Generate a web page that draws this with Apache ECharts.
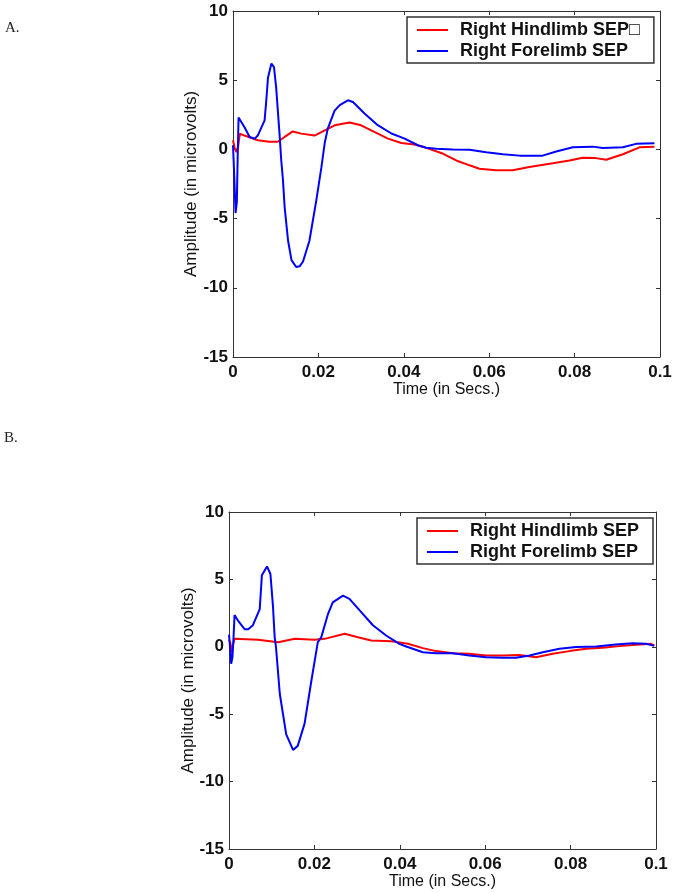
<!DOCTYPE html>
<html>
<head>
<meta charset="utf-8">
<script src="https://cdn.jsdelivr.net/npm/echarts@6/dist/echarts.min.js"></script>
<style>html,body{margin:0;padding:0;background:#fff;}#c{width:678px;height:893px;}</style>
</head>
<body>
<div id="c"></div>
<script>
// Panel A
const aRedT  = [0,0.0004,0.0008,0.0012,0.0016,0.0027,0.0058,0.0085,0.0105,0.0121,0.014,0.016,0.0191,0.0215,0.0238,0.0273,0.03,0.0331,0.0363,0.0394,0.0425,0.0449,0.0491,0.0523,0.0554,0.0577,0.0616,0.0655,0.0694,0.0749,0.0788,0.0819,0.085,0.0874,0.0913,0.0952,0.0987];
const aRedV  = [0.66,0.1,-0.2,0.2,1.14,1.0,0.66,0.55,0.55,0.9,1.3,1.14,1.0,1.38,1.74,1.95,1.74,1.26,0.78,0.46,0.35,0.15,-0.3,-0.8,-1.15,-1.4,-1.5,-1.5,-1.27,-1.0,-0.8,-0.6,-0.63,-0.75,-0.35,0.15,0.2];
const aBlueT = [0,0.0003,0.0006,0.0009,0.0011,0.0013,0.0027,0.0039,0.0051,0.0058,0.0074,0.0078,0.0082,0.009,0.0096,0.0101,0.0109,0.0113,0.0117,0.0121,0.0129,0.0137,0.0148,0.0156,0.0164,0.0179,0.0195,0.0207,0.0215,0.0222,0.0238,0.025,0.0269,0.0281,0.0308,0.0339,0.0371,0.0402,0.0433,0.0452,0.0476,0.0515,0.0554,0.0593,0.0632,0.0671,0.0725,0.0757,0.0796,0.0842,0.0866,0.0913,0.0944,0.0987];
const aBlueV = [0.3,-2.0,-4.6,-3.8,-0.5,2.3,1.6,0.9,0.78,1.0,2.1,3.55,5.2,6.2,5.95,4.5,1.1,-0.8,-2.2,-4.2,-6.6,-8.0,-8.5,-8.45,-8.1,-6.6,-3.7,-1.3,0.5,1.5,2.8,3.2,3.55,3.42,2.6,1.75,1.15,0.78,0.3,0.12,0.05,0.0,-0.02,-0.2,-0.35,-0.45,-0.45,-0.15,0.15,0.2,0.1,0.15,0.4,0.45];
// Panel B
const bRedT  = [0,0.0003,0.0006,0.0009,0.0013,0.0068,0.0115,0.0154,0.02,0.0224,0.0271,0.0302,0.0333,0.038,0.0419,0.0454,0.0485,0.0524,0.0563,0.0602,0.0641,0.068,0.0719,0.0758,0.0797,0.0836,0.0875,0.0914,0.0953,0.0988,0.0996];
const bRedV  = [0.5,0.3,-0.4,0.1,0.59,0.52,0.34,0.59,0.52,0.59,0.97,0.71,0.47,0.42,0.22,-0.1,-0.32,-0.47,-0.52,-0.64,-0.64,-0.6,-0.77,-0.52,-0.32,-0.15,-0.07,0.05,0.15,0.22,0.1];
const bBlueT = [0,0.0003,0.0005,0.0008,0.001,0.0013,0.0021,0.0037,0.0045,0.0056,0.0072,0.0077,0.0089,0.0097,0.0103,0.0107,0.011,0.0119,0.0134,0.015,0.0161,0.0177,0.0193,0.0208,0.0216,0.0232,0.0243,0.0267,0.0282,0.0306,0.0337,0.0368,0.0399,0.0415,0.0454,0.0485,0.0524,0.0563,0.0602,0.0641,0.0672,0.0704,0.0735,0.0774,0.0813,0.086,0.0906,0.0945,0.0977,0.0996];
const bBlueV = [0.9,-0.2,-1.26,-0.8,0.3,2.35,1.95,1.3,1.3,1.6,2.8,5.3,5.96,5.4,3.0,0.7,0,-3.5,-6.5,-7.65,-7.35,-5.7,-2.5,0.35,0.7,2.45,3.3,3.8,3.56,2.7,1.6,0.84,0.22,0.02,-0.4,-0.47,-0.47,-0.64,-0.77,-0.82,-0.82,-0.64,-0.4,-0.15,-0.02,0.02,0.17,0.27,0.22,0.07];

const seriesNamesA = ['Right Hindlimb SEP\u25A1', 'Right Forelimb SEP'];
const seriesNamesB = ['Right Hindlimb SEP', 'Right Forelimb SEP'];
const panelLabels = ['A.', 'B.'];
const xTitle = 'Time (in Secs.)';
const yTitle = 'Amplitude (in microvolts)';

const pairs = (t, v) => t.map((x, i) => [x, v[i]]);
const axisColor = '#333';
const sans = 'Liberation Sans, Arial, sans-serif';
const tickFont = {fontFamily: sans, fontWeight: 'bold', fontSize: 17, color: '#111'};

function xAxes(g, gap) {
  return [
    {type:'value', gridIndex:g, min:0, max:0.1, interval:0.02, position:'bottom',
     name:xTitle, nameLocation:'middle', nameGap:gap, nameMoveOverlap:false,
     nameTextStyle:{fontFamily:sans, fontSize:16, color:'#111'},
     axisLine:{show:true, onZero:false, lineStyle:{color:axisColor, width:1}},
     axisTick:{show:true, inside:true, length:4, lineStyle:{color:axisColor}},
     axisLabel:Object.assign({margin:7}, tickFont),
     splitLine:{show:false}},
    {type:'value', gridIndex:g, min:0, max:0.1, interval:0.02, position:'top',
     axisLine:{show:true, onZero:false, lineStyle:{color:axisColor, width:1}},
     axisTick:{show:true, inside:true, length:4, lineStyle:{color:axisColor}},
     axisLabel:{show:false}, splitLine:{show:false}}
  ];
}
function yAxes(g, gap) {
  return [
    {type:'value', gridIndex:g, min:-15, max:10, interval:5, position:'left',
     name:yTitle, nameLocation:'middle', nameGap:gap, nameMoveOverlap:false,
     nameTextStyle:{fontFamily:sans, fontSize:17, color:'#111'},
     axisLine:{show:true, onZero:false, lineStyle:{color:axisColor, width:1}},
     axisTick:{show:true, inside:true, length:4, lineStyle:{color:axisColor}},
     axisLabel:Object.assign({margin:5}, tickFont),
     splitLine:{show:false}},
    {type:'value', gridIndex:g, min:-15, max:10, interval:5, position:'right',
     axisLine:{show:true, onZero:false, lineStyle:{color:axisColor, width:1}},
     axisTick:{show:true, inside:true, length:4, lineStyle:{color:axisColor}},
     axisLabel:{show:false}, splitLine:{show:false}}
  ];
}
function line(name, data, color, xi, yi) {
  return {type:'line', name:name, data:data, xAxisIndex:xi, yAxisIndex:yi,
    showSymbol:false, symbol:'none', animation:false,
    lineStyle:{color:color, width:2}, itemStyle:{color:color}};
}
function legend(names, left, top, padR) {
  return {data:names, orient:'vertical', left:left, top:top,
    padding:[4,padR,3,10], itemGap:3, itemWidth:31, itemHeight:2, icon:'rect',
    borderColor:'#333', borderWidth:1.5, backgroundColor:'#fff',
    selectedMode:false,
    textStyle:{fontFamily:sans, fontWeight:'bold', fontSize:18, color:'#111', lineHeight:18, padding:[0,0,0,7]}};
}

const chart = echarts.init(document.getElementById('c'), null, {renderer:'canvas'});
chart.setOption({
  backgroundColor:'#fff',
  animation:false,
  grid:[
    {left:233, top:11, width:427, height:346},
    {left:229, top:512, width:427, height:337}
  ],
  xAxis: xAxes(0, 25).concat(xAxes(1, 25)),
  yAxis: yAxes(0, 33).concat(yAxes(1, 32)),
  legend:[legend(seriesNamesA, 407, 17, 14), legend(seriesNamesB, 417, 518, 14)],
  series:[
    line(seriesNamesA[0], pairs(aRedT, aRedV), '#ff0000', 0, 0),
    line(seriesNamesA[1], pairs(aBlueT, aBlueV), '#0000ff', 0, 0),
    line(seriesNamesB[0], pairs(bRedT, bRedV), '#ff0000', 2, 2),
    line(seriesNamesB[1], pairs(bBlueT, bBlueV), '#0000ff', 2, 2)
  ],
  graphic:[
    {type:'text', left:5, top:21, style:{text:panelLabels[0], font:'15px "Liberation Serif", "Times New Roman", serif', fill:'#222'}},
    {type:'text', left:4, top:431, style:{text:panelLabels[1], font:'15px "Liberation Serif", "Times New Roman", serif', fill:'#222'}}
  ]
});
</script>
</body>
</html>
